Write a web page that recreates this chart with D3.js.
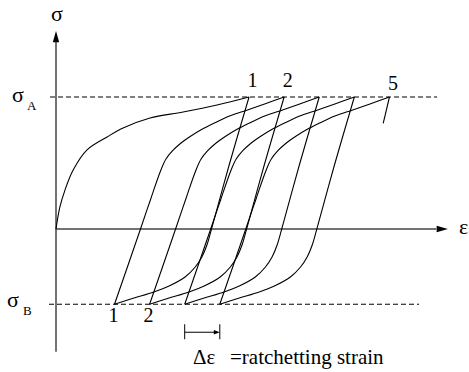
<!DOCTYPE html>
<html><head><meta charset="utf-8">
<script src="https://cdn.jsdelivr.net/npm/d3@7"></script>
<style>
body{margin:0;background:#fff}
svg{display:block}
</style>
</head><body>
<svg id="chart" width="469" height="372"></svg>
<script>
// Stress levels of the cyclic loading (normalised by sigma_A)
const sigmaA = 1.0;
const sigmaB = -0.57;
// Strain at the end of each loading / unloading half-cycle
const peakStrains = [49.5, 58.5, 67.5, 76.5, 85.5];
const valleyStrains = [15, 24, 33, 42];
const peakLabels = ["1", "2", "", "", "5"];
const valleyLabels = ["1", "2", "", ""];
// Monotonic loading from the origin: [strain, stress]
const initialLoading = [[0,0],[1.0,0.167],[2.3,0.295],[4.4,0.447],[7.9,0.598],[13.1,0.697],[17.2,0.765],[24.1,0.841],[32.6,0.886],[41.3,0.939],[49.5,1.0]];
// Reloading branch, strain measured from the valley it starts at
const reloadBranch = [[0,-0.57],[6.4,-0.023],[9.2,0.22],[11.8,0.44],[13.2,0.53],[14.9,0.593],[16.9,0.648],[19.5,0.703],[22.1,0.75],[25.6,0.803],[29.5,0.856],[34.1,0.902],[38.5,0.947],[43.5,1.0]];
// Unloading branch, strain measured from the peak it starts at
const unloadBranch = [[0,1.0],[-5.1,0.485],[-9.7,-0.008],[-10.8,-0.121],[-12.1,-0.212],[-13.8,-0.288],[-16.4,-0.364],[-20.5,-0.432],[-24.4,-0.477],[-29.5,-0.523],[-34.5,-0.57]];
// Start of the unloading after the fifth peak
const lastUnload = [[0,1.0],[-1.6,0.8]];

const serif = "'Liberation Serif'";
const svg = d3.select("#chart");
const x = d3.scaleLinear().domain([0, 100]).range([56, 446]);
const y = d3.scaleLinear().domain([-1, 1.5]).range([361, 31]);

const line = d3.line()
  .x(d => x(d[0])).y(d => y(d[1]))
  .curve(d3.curveCatmullRom.alpha(0.5));

// Dashed stress levels
svg.append("line").attr("x1", 50).attr("x2", 437)
  .attr("y1", y(sigmaA)).attr("y2", y(sigmaA))
  .attr("stroke", "#000").attr("stroke-width", 1).attr("stroke-dasharray", "5,3");
svg.append("line").attr("x1", 49).attr("x2", 419)
  .attr("y1", y(sigmaB)).attr("y2", y(sigmaB))
  .attr("stroke", "#000").attr("stroke-width", 1).attr("stroke-dasharray", "5,3");

// Axes
svg.append("line").attr("x1", x(0)).attr("x2", x(0))
  .attr("y1", y(-0.93)).attr("y2", y(1.42))
  .attr("stroke", "#444").attr("stroke-width", 1.5);
svg.append("path")
  .attr("d", `M${x(0)},${y(1.5)} L${x(0)-3.2},${y(1.415)} L${x(0)+3.2},${y(1.415)} Z`)
  .attr("fill", "#000");
svg.append("line").attr("x1", x(0)).attr("x2", x(97.5))
  .attr("y1", y(0)).attr("y2", y(0))
  .attr("stroke", "#444").attr("stroke-width", 1.5);
svg.append("path")
  .attr("d", `M${x(100.5)},${y(0)} L${x(97.6)},${y(0)-3.2} L${x(97.6)},${y(0)+3.2} Z`)
  .attr("fill", "#000");

// Hysteresis branches
const paths = [initialLoading];
valleyStrains.forEach((v, i) => {
  paths.push(unloadBranch.map(d => [peakStrains[i] + d[0], d[1]]));
  paths.push(reloadBranch.map(d => [v + d[0], d[1]]));
});
paths.push(lastUnload.map(d => [peakStrains[4] + d[0], d[1]]));

svg.append("g").selectAll("path").data(paths).join("path")
  .attr("d", line)
  .attr("fill", "none").attr("stroke", "#000").attr("stroke-width", 1.1);

const labels = svg.append("g");
function label(tx, ty, size, str, anchor) {
  return labels.append("text").attr("x", tx).attr("y", ty)
    .attr("text-anchor", anchor || "start")
    .style("font-family", serif).style("font-size", size + "px")
    .attr("fill", "#000").text(str);
}

// Cycle numbers
peakStrains.forEach((d, i) => label(x(d) + 3.5, y(sigmaA) - (i === 4 ? 7 : 10), 20, peakLabels[i], "middle"));
valleyStrains.forEach((d, i) => label(x(d) - 1, y(sigmaB) + 18, 20, valleyLabels[i], "middle"));

// Axis and level labels
label(x(0) + 1, 21, 22, "σ", "middle");
label(459, y(0) + 5, 22, "ε");
label(12, y(sigmaA) + 5, 22, "σ");
label(27, y(sigmaA) + 13, 13, "A");
label(7, y(sigmaB) + 3, 22, "σ");
label(23, y(sigmaB) + 11, 13, "B");

// Ratchetting strain increment between two successive valleys
const d0 = x(valleyStrains[2]), d1 = x(valleyStrains[3]);
const my = y(sigmaB) + 28;
const marker = svg.append("g").attr("stroke", "#000").attr("stroke-width", 1);
marker.append("line").attr("x1", d0).attr("x2", d0).attr("y1", my - 8).attr("y2", my + 7);
marker.append("line").attr("x1", d1).attr("x2", d1).attr("y1", my - 8).attr("y2", my + 7);
marker.append("line").attr("x1", d0).attr("x2", d1 - 4).attr("y1", my).attr("y2", my);
svg.append("path").attr("d", `M${d1},${my} L${d1-6},${my-2.2} L${d1-6},${my+2.2} Z`).attr("fill", "#000");

label(193, 364, 21, "Δε");
label(230, 364, 21, "=ratchetting strain");
</script>
</body></html>
